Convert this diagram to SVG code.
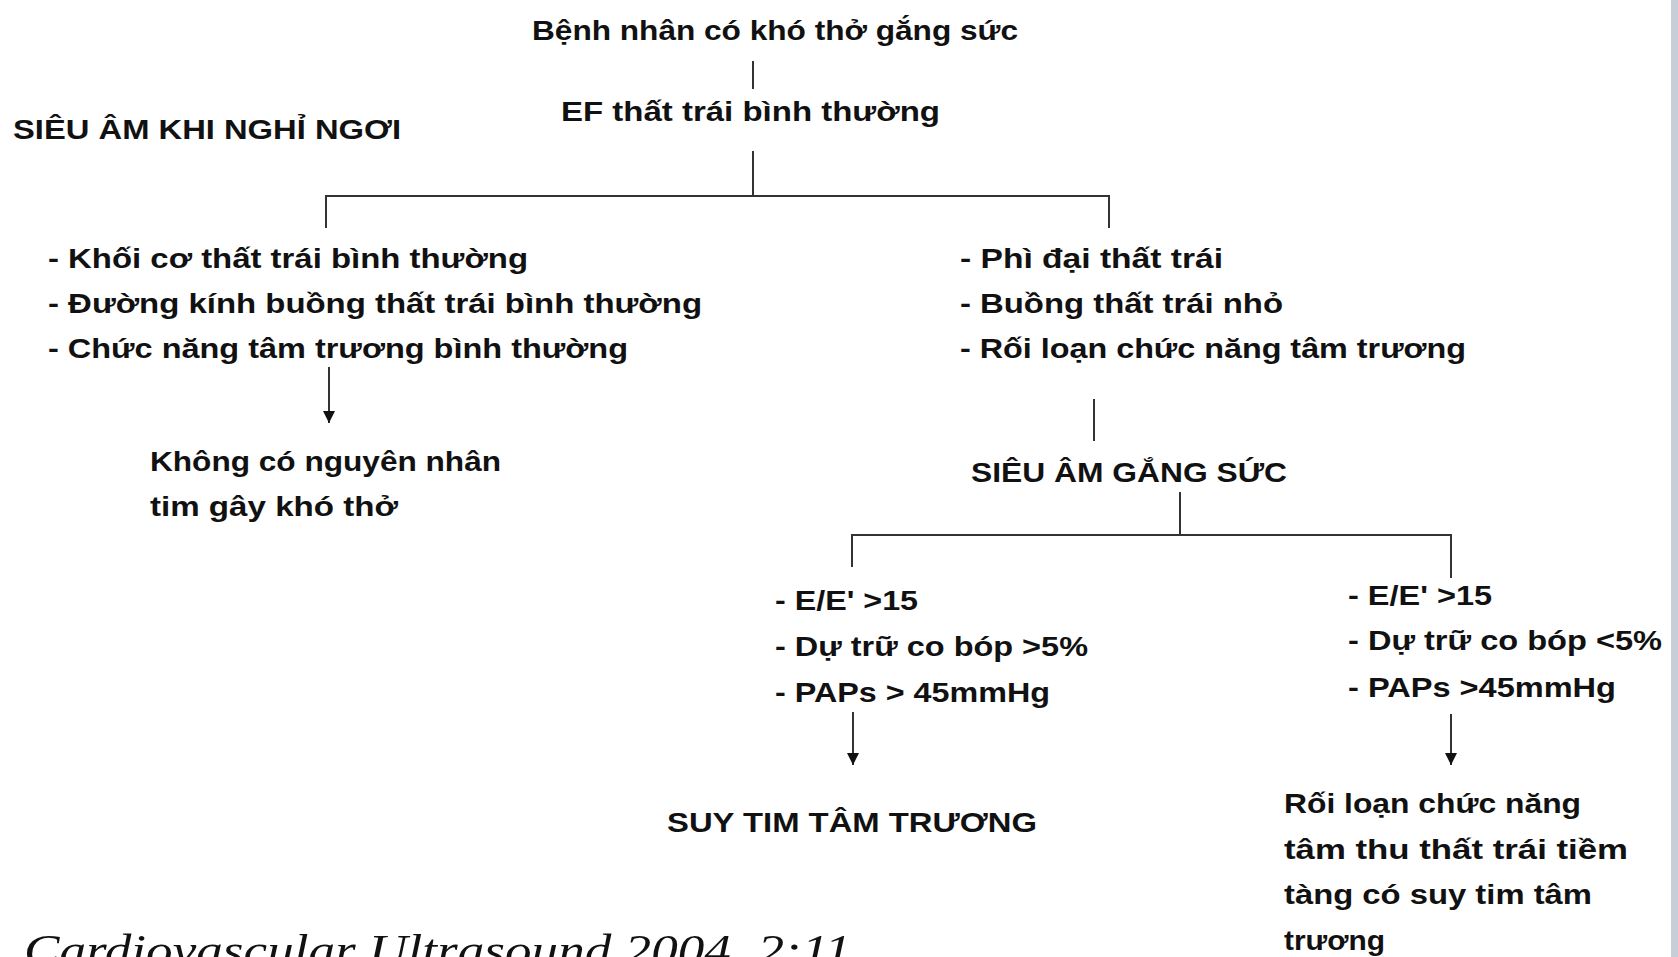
<svg xmlns="http://www.w3.org/2000/svg" width="1678" height="957" viewBox="0 0 1678 957">
<defs>
<style>
.t{font-family:"Liberation Sans",Arial,sans-serif;font-weight:bold;font-size:28px;fill:#111;}
.ln{stroke:#333;stroke-width:2;fill:none;}
.ref{font-family:"Liberation Serif","DejaVu Serif",serif;font-style:italic;font-size:44px;fill:#111;}
</style>
<marker id="ah" markerWidth="10" markerHeight="12" refX="5" refY="11" orient="auto" markerUnits="userSpaceOnUse" viewBox="0 0 10 12">
<path d="M0,0 L10,0 L5,12 Z" fill="#111" transform="rotate(-90 5 6)"/>
</marker>
<marker id="arr" markerWidth="12" markerHeight="14" refX="12" refY="6" orient="auto" markerUnits="userSpaceOnUse" viewBox="0 0 12 12">
<path d="M0,0 L12,6 L0,12 Z" fill="#111"/>
</marker>
</defs>
<rect width="1678" height="957" fill="#ffffff"/>
<rect x="1671" y="0" width="7" height="957" fill="#c6cfd8"/>

<g id="connectors">
<line class="ln" x1="753" y1="61" x2="753" y2="89"/>
<line class="ln" x1="753" y1="151" x2="753" y2="196"/>
<polyline class="ln" points="326,228 326,196 1109,196 1109,228"/>
<line class="ln" x1="329" y1="367" x2="329" y2="423" marker-end="url(#arr)"/>
<line class="ln" x1="1094" y1="399" x2="1094" y2="441"/>
<line class="ln" x1="1180" y1="492" x2="1180" y2="535"/>
<polyline class="ln" points="852,567 852,535 1451,535 1451,578"/>
<line class="ln" x1="853" y1="712" x2="853" y2="765" marker-end="url(#arr)"/>
<line class="ln" x1="1451" y1="714" x2="1451" y2="765" marker-end="url(#arr)"/>
</g>

<g id="n-start"><text class="t" x="532" y="40" textLength="486" lengthAdjust="spacingAndGlyphs">Bệnh nhân có khó thở gắng sức</text></g>
<g id="n-ef"><text class="t" x="561" y="121" textLength="379" lengthAdjust="spacingAndGlyphs">EF thất trái bình thường</text></g>
<g id="n-rest"><text class="t" x="13" y="139" textLength="388" lengthAdjust="spacingAndGlyphs">SIÊU ÂM KHI NGHỈ NGƠI</text></g>
<g id="n-normal">
<text class="t" x="48" y="268" textLength="480" lengthAdjust="spacingAndGlyphs">- Khối cơ thất trái bình thường</text>
<text class="t" x="48" y="313" textLength="654" lengthAdjust="spacingAndGlyphs">- Đường kính buồng thất trái bình thường</text>
<text class="t" x="48" y="358" textLength="580" lengthAdjust="spacingAndGlyphs">- Chức năng tâm trương bình thường</text>
</g>
<g id="n-nocause">
<text class="t" x="150" y="471" textLength="351" lengthAdjust="spacingAndGlyphs">Không có nguyên nhân</text>
<text class="t" x="150" y="516" textLength="248" lengthAdjust="spacingAndGlyphs">tim gây khó thở</text>
</g>
<g id="n-lvh">
<text class="t" x="960" y="268" textLength="263" lengthAdjust="spacingAndGlyphs">- Phì đại thất trái</text>
<text class="t" x="960" y="313" textLength="323" lengthAdjust="spacingAndGlyphs">- Buồng thất trái nhỏ</text>
<text class="t" x="960" y="358" textLength="506" lengthAdjust="spacingAndGlyphs">- Rối loạn chức năng tâm trương</text>
</g>
<g id="n-stress"><text class="t" x="971" y="482" textLength="316" lengthAdjust="spacingAndGlyphs">SIÊU ÂM GẮNG SỨC</text></g>
<g id="n-left-crit">
<text class="t" x="775" y="610" textLength="143" lengthAdjust="spacingAndGlyphs">- E/E' &gt;15</text>
<text class="t" x="775" y="656" textLength="313" lengthAdjust="spacingAndGlyphs">- Dự trữ co bóp &gt;5%</text>
<text class="t" x="775" y="702" textLength="275" lengthAdjust="spacingAndGlyphs">- PAPs &gt; 45mmHg</text>
</g>
<g id="n-hfpef"><text class="t" x="667" y="832" textLength="370" lengthAdjust="spacingAndGlyphs">SUY TIM TÂM TRƯƠNG</text></g>
<g id="n-right-crit">
<text class="t" x="1348" y="605" textLength="144" lengthAdjust="spacingAndGlyphs">- E/E' &gt;15</text>
<text class="t" x="1348" y="650" textLength="314" lengthAdjust="spacingAndGlyphs">- Dự trữ co bóp &lt;5%</text>
<text class="t" x="1348" y="697" textLength="268" lengthAdjust="spacingAndGlyphs">- PAPs &gt;45mmHg</text>
</g>
<g id="n-systolic">
<text class="t" x="1284" y="813" textLength="297" lengthAdjust="spacingAndGlyphs">Rối loạn chức năng</text>
<text class="t" x="1284" y="859" textLength="344" lengthAdjust="spacingAndGlyphs">tâm thu thất trái tiềm</text>
<text class="t" x="1284" y="904" textLength="308" lengthAdjust="spacingAndGlyphs">tàng có suy tim tâm</text>
<text class="t" x="1284" y="950" textLength="101" lengthAdjust="spacingAndGlyphs">trương</text>
</g>
<g id="ref"><text class="ref" x="24" y="965" textLength="827" lengthAdjust="spacingAndGlyphs">Cardiovascular Ultrasound 2004, 2:11</text></g>
</svg>
